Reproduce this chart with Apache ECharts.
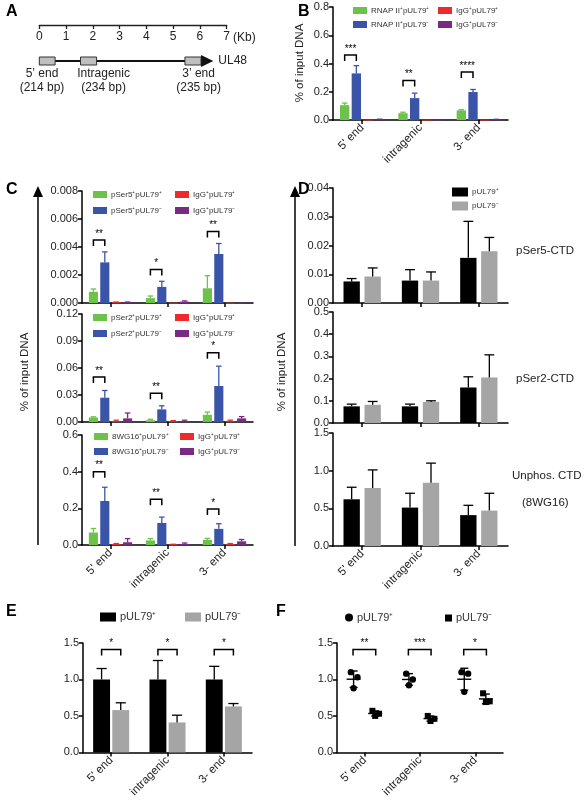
<!DOCTYPE html>
<html><head><meta charset="utf-8">
<script src="https://cdn.jsdelivr.net/npm/echarts@6/dist/echarts.min.js"></script>
<style>html,body{margin:0;padding:0;background:#fff}#c{width:586px;height:800px}</style>
</head><body><div id="c"></div>
<script>
// ---------- DATA ----------
const cats = ["5' end", "intragenic", "3- end"];
// Panel A (kb)
const rulerTicks = [0,1,2,3,4,5,6,7];
const regions = [[0,0.59],[1.54,2.14],[5.44,6.04]];
const regionLabelKb = [0.1,2.4,5.95];
const regionNames = ["5\u2019 end","Intragenic","3\u2019 end"];
const regionSizes = ["(214 bp)","(234 bp)","(235 bp)"];
const geneEnd = 6.5;
// Panel B
const bGreen = [0.105,0.048,0.068], bGreenErr = [0.015,0.007,0.005];
const bBlue = [0.33,0.155,0.198], bBlueErr = [0.055,0.035,0.018];
const bRed = [0.002,0.002,0.002], bRedErr = [0,0,0];
const bPurple = [0.005,0.002,0.004], bPurpleErr = [0.001,0,0.001];
const bSig = [0.46,0.28,0.34], bStars = ["***","**","****"];
// Panel C
const c1Green=[0.0008,0.00035,0.00105], c1GreenErr=[0.0002,0.00015,0.0009];
const c1Blue=[0.0029,0.00115,0.0035], c1BlueErr=[0.00075,0.0004,0.00075];
const c1Red=[0.00005,0.00002,0.00002], c1RedErr=[0.00002,0,0];
const c1Purple=[0.00005,0.0001,0.00002], c1PurpleErr=[0.00002,0.00005,0];
const c1Sig=[0.0045,0.0024,0.0051], c1Stars=["**","*","**"];
const c2Green=[0.005,0.002,0.008], c2GreenErr=[0.0008,0.001,0.003];
const c2Blue=[0.027,0.014,0.04], c2BlueErr=[0.008,0.004,0.022];
const c2Red=[0.001,0.001,0.001], c2RedErr=[0.001,0.0005,0.001];
const c2Purple=[0.004,0.001,0.004], c2PurpleErr=[0.006,0.001,0.002];
const c2Sig=[0.05,0.032,0.077], c2Stars=["**","**","*"];
const c3Green=[0.068,0.025,0.028], c3GreenErr=[0.022,0.01,0.008];
const c3Blue=[0.24,0.12,0.088], c3BlueErr=[0.075,0.032,0.028];
const c3Red=[0.005,0.003,0.005], c3RedErr=[0.003,0.001,0.003];
const c3Purple=[0.015,0.006,0.02], c3PurpleErr=[0.02,0.005,0.01];
const c3Sig=[0.40,0.25,0.196], c3Stars=["**","**","*"];
// Panel D
const d1Plus=[0.0075,0.0078,0.0157], d1PlusErr=[0.001,0.0038,0.0127];
const d1Minus=[0.0092,0.0078,0.018], d1MinusErr=[0.003,0.003,0.0048];
const d2Plus=[0.075,0.075,0.16], d2PlusErr=[0.01,0.01,0.048];
const d2Minus=[0.082,0.095,0.205], d2MinusErr=[0.015,0.005,0.102];
const d3Plus=[0.62,0.51,0.41], d3PlusErr=[0.16,0.19,0.13];
const d3Minus=[0.77,0.84,0.47], d3MinusErr=[0.24,0.26,0.23];
// Panel E
const ePlus=[1,1,1], ePlusErr=[0.15,0.26,0.18];
const eMinus=[0.58,0.41,0.63], eMinusErr=[0.1,0.1,0.04];
const eSig=[1.41,1.41,1.41], eStars=["*","*","*"];
// Panel F (replicates)
const fPlus=[[1.1,1.03,0.88],[1.08,1.0,0.92],[1.1,1.08,0.83]];
const fMinus=[[0.57,0.53,0.5],[0.5,0.46,0.43],[0.81,0.7,0.69]];
const fSig=[1.41,1.41,1.41], fStars=["**","***","*"];

// ---------- STYLE ----------
const FONT='Liberation Sans';
const GREEN='#6cc24a', BLUE='#3a55a8', RED='#ee2a2a', PURPLE='#7b2a83', BLACK='#000', GREY='#a5a5a5';
const PLUS='\u207a', MINUS='\u207b';

const grids=[], xAxes=[], yAxes=[], series=[], legends=[], graphics=[];

function addGrid(l,r,t,b,ymin,ymax,yint,dec,showX){
  const gi=grids.length;
  grids.push({left:l,top:t,width:r-l,height:b-t});
  xAxes.push({type:'category',gridIndex:gi,data:cats,
    axisLine:{lineStyle:{color:'#000',width:1.5}},
    axisTick:{show:true,alignWithLabel:true,length:4,lineStyle:{color:'#000',width:1.5}},
    axisLabel:{show:showX,rotate:45,fontFamily:FONT,fontSize:11.5,color:'#222',margin:6}});
  yAxes.push({type:'value',gridIndex:gi,min:ymin,max:ymax,interval:yint,splitLine:{show:false},
    axisLine:{show:true,lineStyle:{color:'#000',width:1.5}},
    axisTick:{show:true,length:4,lineStyle:{color:'#000',width:1.5}},
    axisLabel:{fontFamily:FONT,fontSize:11,color:'#222',margin:4,formatter:v=>v.toFixed(dec)}});
  return gi;
}
function bars(gi,name,vals,errs,color,errColor,off,wf){
  series.push({type:'custom',name:name,xAxisIndex:gi,yAxisIndex:gi,itemStyle:{color:color},
    data:vals.map((v,i)=>[i,v,errs[i]]),encode:{x:0,y:1},
    renderItem:(p,api)=>{
      const i=api.value(0),v=api.value(1),e=api.value(2);
      const base=api.coord([i,0]),top=api.coord([i,v]),et=api.coord([i,v+e]);
      const band=api.size([1,0])[0];
      const x=base[0]+off*band,w=wf*band;
      const ch=[{type:'rect',shape:{x:x-w/2,y:top[1],width:w,height:Math.max(base[1]-top[1],0.8)},style:{fill:color}}];
      if(e>0){
        ch.push({type:'line',shape:{x1:x,y1:top[1],x2:x,y2:et[1]},style:{stroke:errColor,lineWidth:1.3}});
        ch.push({type:'line',shape:{x1:x-w*0.3,y1:et[1],x2:x+w*0.3,y2:et[1]},style:{stroke:errColor,lineWidth:1.3}});
      }
      return {type:'group',children:ch};
    }});
}
function sig(gi,ys,stars,o1,o2){
  series.push({type:'custom',xAxisIndex:gi,yAxisIndex:gi,silent:true,
    data:ys.map((y,i)=>[i,y]),encode:{x:0,y:1},
    renderItem:(p,api)=>{
      const i=api.value(0),y=api.value(1);
      const c=api.coord([i,y]),band=api.size([1,0])[0];
      const x1=c[0]+o1*band,x2=c[0]+o2*band,yy=c[1];
      return {type:'group',children:[
        {type:'polyline',shape:{points:[[x1,yy+6],[x1,yy],[x2,yy],[x2,yy+6]]},style:{stroke:'#000',lineWidth:1.5,fill:null}},
        {type:'text',style:{text:stars[p.dataIndex],x:(x1+x2)/2,y:yy-1,align:'center',verticalAlign:'bottom',fontFamily:FONT,fontSize:10,fill:'#000'}}]};
    }});
}
function leg(name,x,y,color,icon,w,h,fs){
  legends.push({left:x,top:y-h/2-1,itemWidth:w,itemHeight:h,itemGap:0,selectedMode:false,padding:0,
    textStyle:{fontFamily:FONT,fontSize:fs,color:'#333',padding:[0,0,0,-1]},
    data:[{name:name,icon:icon,itemStyle:{color:color}}]});
}
function ytitle(x,y,t){graphics.push({type:'text',x:x,y:y,rotation:Math.PI/2,style:{text:t,align:'center',verticalAlign:'middle',fontFamily:FONT,fontSize:11.5,fill:'#222'}});}
function label(x,y,t){graphics.push({type:'text',x:x,y:y,style:{text:t,fontFamily:FONT,fontSize:16,fontWeight:'bold',fill:'#000',verticalAlign:'middle'}});}
function txt(x,y,t,fs,al){graphics.push({type:'text',x:x,y:y,style:{text:t,fontFamily:FONT,fontSize:fs||12,fill:'#222',align:al||'left',verticalAlign:'middle'}});}
function arrow(x,y1,y2){
  graphics.push({type:'line',shape:{x1:x,y1:y1,x2:x,y2:y2+8},style:{stroke:'#000',lineWidth:1.5}});
  graphics.push({type:'polygon',shape:{points:[[x-5,y2+11],[x+5,y2+11],[x,y2]]},style:{fill:'#000'}});
}

// ---------- PANEL A ----------
const gA=grids.length;
grids.push({left:39.3,top:0,width:187.4,height:25});
xAxes.push({type:'value',gridIndex:gA,min:0,max:7,interval:1,
  axisLine:{lineStyle:{color:'#222',width:1.3}},axisTick:{length:4,inside:false,lineStyle:{color:'#222',width:1.3}},
  axisLabel:{fontFamily:FONT,fontSize:12,color:'#222',margin:6},splitLine:{show:false}});
yAxes.push({type:'value',gridIndex:gA,min:0,max:1,show:false});
series.push({type:'custom',xAxisIndex:gA,yAxisIndex:gA,silent:true,data:[[0,0]],encode:{x:0,y:1},
  renderItem:(p,api)=>{
    const y0=api.coord([0,0])[1]+36, ch=[];
    const xs=api.coord([0,0])[0], xe=api.coord([geneEnd,0])[0];
    ch.push({type:'line',shape:{x1:xs,y1:y0,x2:xe-8,y2:y0},style:{stroke:'#111',lineWidth:2.2}});
    const ts=api.coord([regions[2][1],0])[0];
    ch.push({type:'polygon',shape:{points:[[ts,y0-6],[ts,y0+6],[xe,y0]]},style:{fill:'#111'}});
    regions.forEach((r,i)=>{
      const a=api.coord([r[0],0])[0],b=api.coord([r[1],0])[0];
      ch.push({type:'rect',shape:{x:a,y:y0-4,width:b-a,height:8},style:{fill:'#bfbfbf',stroke:'#333',lineWidth:1}});
      const cx=api.coord([regionLabelKb[i],0])[0];
      ch.push({type:'text',style:{text:regionNames[i],x:cx,y:y0+13,align:'center',verticalAlign:'middle',fontFamily:FONT,fontSize:12,fill:'#222'}});
      ch.push({type:'text',style:{text:regionSizes[i],x:cx,y:y0+27,align:'center',verticalAlign:'middle',fontFamily:FONT,fontSize:12,fill:'#222'}});
    });
    ch.push({type:'text',style:{text:'UL48',x:xe+5,y:y0,verticalAlign:'middle',fontFamily:FONT,fontSize:12,fill:'#222'}});
    return {type:'group',children:ch};
  }});
txt(233,38,'(Kb)',12);

// ---------- PANEL B ----------
const OFF4=[-0.3,-0.1,0.1,0.3], W4=0.16;
let g=addGrid(333,508,7,120,0,0.8,0.2,1,true);
bars(g,'RNAP II'+PLUS+'pUL79'+PLUS,bGreen,bGreenErr,GREEN,GREEN,OFF4[0],W4);
bars(g,'RNAP II'+PLUS+'pUL79'+MINUS,bBlue,bBlueErr,BLUE,BLUE,OFF4[1],W4);
bars(g,'IgG'+PLUS+'pUL79'+PLUS,bRed,bRedErr,RED,RED,OFF4[2],W4);
bars(g,'IgG'+PLUS+'pUL79'+MINUS,bPurple,bPurpleErr,PURPLE,PURPLE,OFF4[3],W4);
sig(g,bSig,bStars,OFF4[0],OFF4[1]);
leg('RNAP II'+PLUS+'pUL79'+PLUS,353,11,GREEN,'rect',14,7,8);
leg('IgG'+PLUS+'pUL79'+PLUS,438,11,RED,'rect',14,7,8);
leg('RNAP II'+PLUS+'pUL79'+MINUS,353,25,BLUE,'rect',14,7,8);
leg('IgG'+PLUS+'pUL79'+MINUS,438,25,PURPLE,'rect',14,7,8);
ytitle(300,63,'% of input DNA');

// ---------- PANEL C ----------
const cSets=[
 [191,303,0.008,0.002,3,false,'pSer5',c1Green,c1GreenErr,c1Blue,c1BlueErr,c1Red,c1RedErr,c1Purple,c1PurpleErr,c1Sig,c1Stars,195,211,93,175],
 [314,422,0.12,0.03,2,false,'pSer2',c2Green,c2GreenErr,c2Blue,c2BlueErr,c2Red,c2RedErr,c2Purple,c2PurpleErr,c2Sig,c2Stars,318,334,93,175],
 [435,545,0.6,0.2,1,true,'8WG16',c3Green,c3GreenErr,c3Blue,c3BlueErr,c3Red,c3RedErr,c3Purple,c3PurpleErr,c3Sig,c3Stars,437,452,94,180]];
cSets.forEach(s=>{
  const gi=addGrid(82,253,s[0],s[1],0,s[2],s[3],s[4],s[5]);
  const ab=s[6];
  bars(gi,ab+PLUS+'pUL79'+PLUS,s[7],s[8],GREEN,GREEN,OFF4[0],W4);
  bars(gi,ab+PLUS+'pUL79'+MINUS,s[9],s[10],BLUE,BLUE,OFF4[1],W4);
  bars(gi,'IgG'+PLUS+'pUL79'+PLUS,s[11],s[12],RED,RED,OFF4[2],W4);
  bars(gi,'IgG'+PLUS+'pUL79'+MINUS,s[13],s[14],PURPLE,PURPLE,OFF4[3],W4);
  sig(gi,s[15],s[16],OFF4[0],OFF4[1]);
  leg(ab+PLUS+'pUL79'+PLUS,s[19],s[17],GREEN,'rect',14,7,8);
  leg('IgG'+PLUS+'pUL79'+PLUS,s[20],s[17],RED,'rect',14,7,8);
  leg(ab+PLUS+'pUL79'+MINUS,s[19],s[18],BLUE,'rect',14,7,8);
  leg('IgG'+PLUS+'pUL79'+MINUS,s[20],s[18],PURPLE,'rect',14,7,8);
});
arrow(38,545,186);
ytitle(25,372,'% of input DNA');

// ---------- PANEL D ----------
const OFF2=[-0.18,0.18], W2=0.28;
const dSets=[[188,303,0.04,0.01,2,false,d1Plus,d1PlusErr,d1Minus,d1MinusErr],
 [312,423,0.5,0.1,1,false,d2Plus,d2PlusErr,d2Minus,d2MinusErr],
 [433,546,1.5,0.5,1,true,d3Plus,d3PlusErr,d3Minus,d3MinusErr]];
dSets.forEach(s=>{
  const gi=addGrid(333,508,s[0],s[1],0,s[2],s[3],s[4],s[5]);
  bars(gi,'pUL79'+PLUS,s[6],s[7],BLACK,BLACK,OFF2[0],W2);
  bars(gi,'pUL79'+MINUS,s[8],s[9],GREY,BLACK,OFF2[1],W2);
});
leg('pUL79'+PLUS,452,193,BLACK,'rect',16,9,8);
leg('pUL79'+MINUS,452,207,GREY,'rect',16,9,8);
arrow(295,546,186);
ytitle(282,372,'% of input DNA');
txt(516,251,'pSer5-CTD',11.5);
txt(516,379,'pSer2-CTD',11.5);
txt(512,476,'Unphos. CTD',11.5);
txt(522,503,'(8WG16)',11.5);

// ---------- PANEL E ----------
g=addGrid(83,252,643,755,0,1.5,0.5,1,true);
bars(g,'pUL79'+PLUS,ePlus,ePlusErr,BLACK,BLACK,-0.17,0.3);
bars(g,'pUL79'+MINUS,eMinus,eMinusErr,GREY,BLACK,0.17,0.3);
sig(g,eSig,eStars,-0.17,0.17);
leg('pUL79'+PLUS,100,617,BLACK,'rect',16,9,11);
leg('pUL79'+MINUS,185,617,GREY,'rect',16,9,11);

// ---------- PANEL F ----------
g=addGrid(337,503,643,755,0,1.5,0.5,1,true);
const jit=[-0.05,0.07,0.0];
function dots(gi,name,reps,off,sym){
  const data=[];reps.forEach((r,i)=>r.forEach((v,k)=>data.push([i,v,k])));
  series.push({type:'custom',name:name,xAxisIndex:gi,yAxisIndex:gi,itemStyle:{color:'#000'},data:data,encode:{x:0,y:1},
    renderItem:(p,api)=>{
      const i=api.value(0),v=api.value(1),k=api.value(2);
      const c=api.coord([i,v]),band=api.size([1,0])[0];
      const x=c[0]+(off+jit[k])*band;
      if(sym==='circle')return {type:'circle',shape:{cx:x,cy:c[1],r:3.2},style:{fill:'#000'}};
      return {type:'rect',shape:{x:x-3,y:c[1]-3,width:6,height:6},style:{fill:'#000'}};
    }});
  const stats=reps.map((r,i)=>{const m=r.reduce((a,b)=>a+b,0)/r.length;const sd=Math.sqrt(r.reduce((a,b)=>a+(b-m)*(b-m),0)/(r.length-1));return [i,m,sd];});
  series.push({type:'custom',xAxisIndex:gi,yAxisIndex:gi,silent:true,data:stats,encode:{x:0,y:1},
    renderItem:(p,api)=>{
      const i=api.value(0),m=api.value(1),sd=api.value(2);
      const c=api.coord([i,m]),hi=api.coord([i,m+sd]),lo=api.coord([i,m-sd]),band=api.size([1,0])[0];
      const x=c[0]+off*band,st={stroke:'#000',lineWidth:1.4};
      return {type:'group',children:[
        {type:'line',shape:{x1:x-7,y1:c[1],x2:x+7,y2:c[1]},style:st},
        {type:'line',shape:{x1:x,y1:hi[1],x2:x,y2:lo[1]},style:st},
        {type:'line',shape:{x1:x-4,y1:hi[1],x2:x+4,y2:hi[1]},style:st},
        {type:'line',shape:{x1:x-4,y1:lo[1],x2:x+4,y2:lo[1]},style:st}]};
    }});
}
dots(g,'pUL79'+PLUS+' ',fPlus,-0.2,'circle');
dots(g,'pUL79'+MINUS+' ',fMinus,0.19,'rect');
sig(g,fSig,fStars,-0.21,0.2);
leg('pUL79'+PLUS+' ',345,617,BLACK,'circle',8,8,11);
leg('pUL79'+MINUS+' ',445,617,BLACK,'rect',7,7,11);

// panel labels
label(6,12,'A');label(298,12,'B');label(6,190,'C');label(298,190,'D');label(6,612,'E');label(276,612,'F');

const chart=echarts.init(document.getElementById('c'),null,{renderer:'canvas'});
chart.setOption({animation:false,backgroundColor:'#fff',grid:grids,xAxis:xAxes,yAxis:yAxes,series:series,legend:legends,graphic:graphics});
</script></body></html>
